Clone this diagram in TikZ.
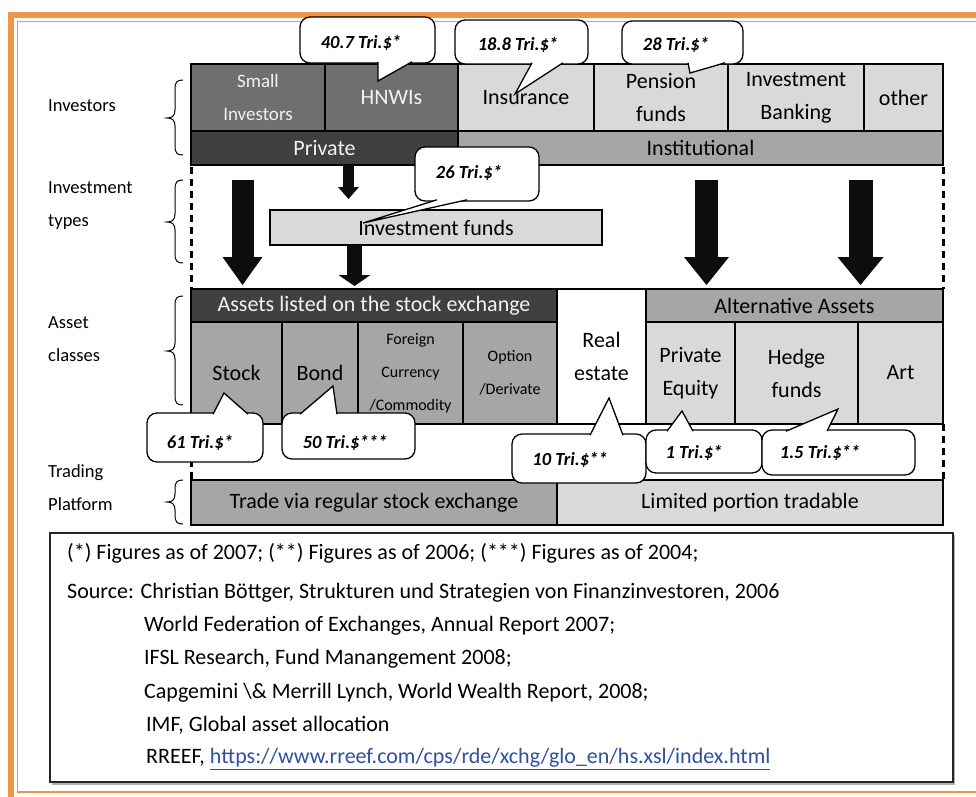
\documentclass[tikz,border=0pt]{standalone}
\usepackage{fontspec}
\setmainfont{Carlito}
\usetikzlibrary{arrows.meta}
\definecolor{frameor}{RGB}{240,150,72}
\definecolor{cdark}{RGB}{64,64,64}
\definecolor{cmdark}{RGB}{111,111,111}
\definecolor{cmid}{RGB}{166,166,166}
\definecolor{clight}{RGB}{217,217,217}
\definecolor{carrow}{RGB}{13,13,13}
\definecolor{clink}{RGB}{48,80,160}
\definecolor{ctxtw}{RGB}{242,242,242}
\tikzset{
  box/.style={draw=black, line width=2pt, inner sep=0pt, outer sep=0pt, anchor=north west, align=center, text=black, font=\fontsize{22}{33}\selectfont},
  smalltxt/.style={font=\fontsize{16}{33}\selectfont},
  midtxt/.style={font=\fontsize{19}{33}\selectfont},
  lbl/.style={anchor=west, inner sep=0pt, align=left, font=\fontsize{18.5}{33}\selectfont},
  bub/.style={draw=black, fill=white, line width=1.3pt, rounded corners=10pt, inner sep=0pt, outer sep=0pt, anchor=north west},
  tailst/.style={draw=black, fill=white, line width=1.3pt, line join=miter},
  bubtxt/.style={inner sep=0pt, font=\fontsize{18.5}{22}\selectfont\bfseries\itshape},
  bracest/.style={draw=black, line width=1pt},
  dashv/.style={draw=black, line width=3pt, dash pattern=on 7pt off 5pt},
  fntxt/.style={anchor=west, inner sep=0pt, font=\fontsize{22}{26}\selectfont},
}
\newcommand{\mybrace}[3]{%
  \draw[bracest] (183,#1) .. controls (177,#1) and (175,#1+2) .. (175,#1+9) -- (175,#2-8)
    .. controls (175,#2-2) and (172,#2) .. (167,#2)
    .. controls (172,#2) and (175,#2+2) .. (175,#2+8) -- (175,#3-9)
    .. controls (175,#3-2) and (177,#3) .. (183,#3);}
\begin{document}
\begin{tikzpicture}[x=1pt,y=-1pt]
\useasboundingbox (0,0) rectangle (976,796);
% frame
\draw[frameor, line width=6pt] (11,830) -- (11,15) -- (1000,15);
\draw[frameor, line width=1.8pt] (1000,792) -- (17.5,792) -- (17.5,21.5) -- (1000,21.5);
% labels
\node[lbl] (lInv) at (48,106) {Investors};
\node[lbl] (lTyp) at (48,206) {Investment\\types};
\node[lbl] (lAss) at (48,339) {Asset\\classes};
\node[lbl] (lTrd) at (48,488) {Trading\\Platform};
\mybrace{80}{118}{155}
\mybrace{180}{222}{263}
\mybrace{296}{351}{405}
\mybrace{480}{502}{524}
% investors
\node[box, fill=cmdark, text=ctxtw, midtxt, minimum width=134pt, minimum height=67pt] (smallinv) at (191,64) {Small\\Investors};
\node[box, fill=cmdark, text=ctxtw, minimum width=133pt, minimum height=67pt] (hnwi) at (325,64) {HNWIs};
\node[box, fill=clight, minimum width=136pt, minimum height=67pt] (insur) at (458,64) {Insurance};
\node[box, fill=clight, minimum width=134pt, minimum height=67pt] (pens) at (594,64) {Pension\\funds};
\node[box, fill=clight, minimum width=136pt, minimum height=67pt] (invb) at (728,64) {Investment\\Banking};
\node[box, fill=clight, minimum width=79pt, minimum height=67pt] (other) at (864,64) {other};
\node[box, fill=cdark, text=ctxtw, minimum width=267pt, minimum height=34pt] (private) at (191,131) {Private};
\node[box, fill=cmid, minimum width=485pt, minimum height=34pt] (instit) at (458,131) {Institutional};
% asset classes
\node[box, fill=cdark, text=ctxtw, minimum width=366pt, minimum height=33pt] (listed) at (191,289) {Assets listed on the stock exchange};
\node[box, fill=white, minimum width=89pt, minimum height=135pt] (realest) at (557,289) {Real\\estate};
\node[box, fill=cmid, minimum width=297pt, minimum height=33pt] (altern) at (646,289) {Alternative Assets};
\node[box, fill=cmid, minimum width=91pt, minimum height=102pt] (stock) at (191,322) {Stock};
\node[box, fill=cmid, minimum width=76pt, minimum height=102pt] (bond) at (282,322) {Bond};
\node[box, fill=cmid, smalltxt, minimum width=105pt, minimum height=102pt] (forex) at (358,322) {Foreign\\Currency\\/Commodity};
\node[box, fill=cmid, smalltxt, minimum width=94pt, minimum height=102pt] (option) at (463,322) {Option\\/Derivate};
\node[box, fill=clight, minimum width=89pt, minimum height=102pt] (pequity) at (646,322) {Private\\Equity};
\node[box, fill=clight, minimum width=123pt, minimum height=102pt] (hedge) at (735,322) {Hedge\\funds};
\node[box, fill=clight, minimum width=85pt, minimum height=102pt] (art) at (858,322) {Art};
% trading
\node[box, fill=cmid, minimum width=366pt, minimum height=45pt] (tradereg) at (191,480) {Trade via regular stock exchange};
\node[box, fill=clight, minimum width=386pt, minimum height=45pt] (limited) at (557,480) {Limited portion tradable};
% dashed
\coordinate (dL1) at (191,167); \coordinate (dL2) at (191,289);
\coordinate (dR1) at (943,167); \coordinate (dR2) at (943,289);
\coordinate (dL3) at (191,424); \coordinate (dL4) at (191,480);
\coordinate (dR3) at (943,424); \coordinate (dR4) at (943,480);
\draw[dashv] (dL1) -- (dL2);
\draw[dashv] (dR1) -- (dR2);
\draw[dashv] (dL3) -- (dL4);
\draw[dashv] (dR3) -- (dR4);
% investment funds
\node[box, fill=clight, minimum width=332pt, minimum height=35pt] (invfunds) at (270,210) {Investment funds};
% arrows
\coordinate (a1s) at (242.5,180); \coordinate (a1e) at (242.5,285);
\coordinate (a2s) at (348.5,165); \coordinate (a2e) at (348.5,199);
\coordinate (a3s) at (354.5,245); \coordinate (a3e) at (354.5,286);
\coordinate (a4s) at (706.5,180); \coordinate (a4e) at (706.5,285);
\coordinate (a5s) at (860.5,180); \coordinate (a5e) at (860.5,285);
\draw[carrow, line width=22pt, -{Triangle[width=40pt,length=28pt,line width=0pt]}] (a1s) -- (a1e);
\draw[carrow, line width=11pt, -{Triangle[width=21pt,length=12pt,line width=0pt]}] (a2s) -- (a2e);
\draw[carrow, line width=15pt, -{Triangle[width=32pt,length=11pt,line width=0pt]}] (a3s) -- (a3e);
\draw[carrow, line width=23pt, -{Triangle[width=45pt,length=28pt,line width=0pt]}] (a4s) -- (a4e);
\draw[carrow, line width=24pt, -{Triangle[width=46pt,length=28pt,line width=0pt]}] (a5s) -- (a5e);
% bubbles (tail at bottom)
\node[bub, minimum width=135pt, minimum height=46pt] (b407) at (300,17) {};
\filldraw[tailst] (378,61.8) -- (378,81) -- (412,61.8);
\node[bubtxt] (t407) at (361,43) {40.7 Tri.\$*};
\node[bub, minimum width=133pt, minimum height=44pt] (b188) at (455,20) {};
\filldraw[tailst] (532,62.8) -- (515,94) -- (563,62.8);
\node[bubtxt] (t188) at (518,45) {18.8 Tri.\$*};
\node[bub, minimum width=121pt, minimum height=43pt] (b28) at (622,21) {};
\filldraw[tailst] (688,62.8) -- (690,73) -- (725,62.8);
\node[bubtxt] (t28) at (676,45) {28 Tri.\$*};
\node[bub, minimum width=124pt, minimum height=54pt] (b26) at (415,147) {};
\filldraw[tailst] (437,199.8) -- (363,223) -- (467,199.8);
\node[bubtxt] (t26) at (469,173) {26 Tri.\$*};
% bubbles (tail at top)
\node[bub, minimum width=116pt, minimum height=49pt] (b61) at (147,413) {};
\filldraw[tailst] (213,414.2) -- (224,393) -- (248,414.2);
\node[bubtxt] (t61) at (200,443) {61 Tri.\$*};
\node[bub, minimum width=133pt, minimum height=46pt] (b50) at (282,413) {};
\filldraw[tailst] (300,414.2) -- (333,386) -- (337,414.2);
\node[bubtxt] (t50) at (345,443) {50 Tri.\$***};
\node[bub, minimum width=134pt, minimum height=49pt] (b10) at (512,434) {};
\filldraw[tailst] (590,435.2) -- (609,398) -- (623,435.2);
\node[bubtxt] (t10) at (570,460) {10 Tri.\$**};
\node[bub, minimum width=116pt, minimum height=43pt] (b1) at (646,430) {};
\filldraw[tailst] (667,431.2) -- (682,411) -- (693,431.2);
\node[bubtxt] (t1) at (694,453) {1 Tri.\$*};
\node[bub, minimum width=153pt, minimum height=45pt] (b15) at (762,430) {};
\filldraw[tailst] (786,431.2) -- (838,409) -- (827,431.2);
\node[bubtxt] (t15) at (820,453) {1.5 Tri.\$**};
% footnote
\fill[black!30] (52,535) rectangle (955,784.5);
\node[draw=black!85, line width=1.3pt, fill=white, minimum width=903pt, minimum height=249pt, anchor=north west, inner sep=0pt, outer sep=0pt] (fnbox) at (50,533) {};
\node[fntxt] (fn1) at (67,553) {(*) Figures as of 2007; (**) Figures as of 2006; (***) Figures as of 2004;};
\node[fntxt] (fn2) at (67,593) {Source: Christian Böttger, Strukturen und Strategien von Finanzinvestoren, 2006};
\node[fntxt] (fn3) at (144,626) {World Federation of Exchanges, Annual Report 2007;};
\node[fntxt] (fn4) at (144,659) {IFSL Research, Fund Manangement 2008;};
\node[fntxt] (fn5) at (144,693) {Capgemini \textbackslash\& Merrill Lynch, World Wealth Report, 2008;};
\node[fntxt] (fn6) at (146,725) {IMF, Global asset allocation};
\node[fntxt] (fn7) at (146,759) {RREEF, {\color{clink}\underline{https://www.rreef.com/cps/rde/xchg/glo\_en/hs.xsl/index.html}}};
\end{tikzpicture}
\end{document}
